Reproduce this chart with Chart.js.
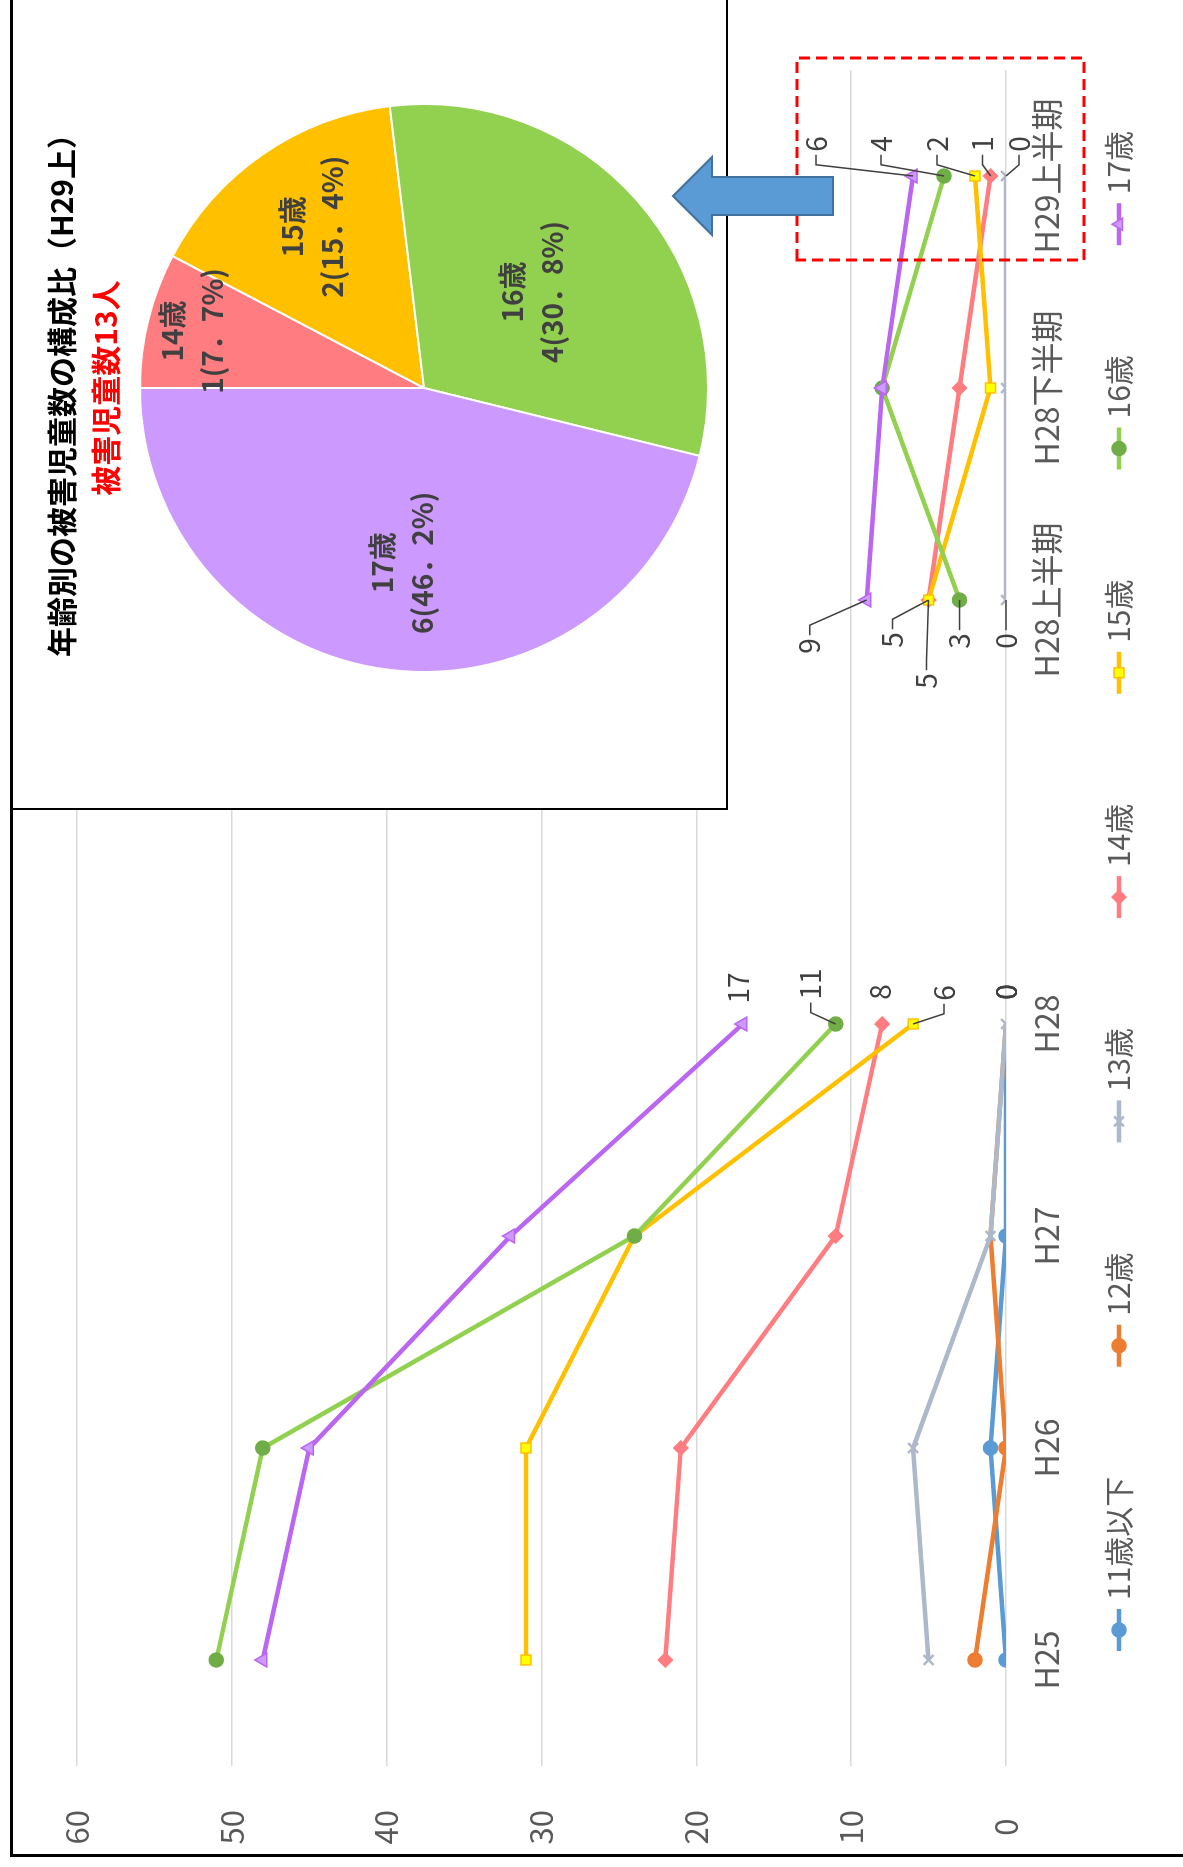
<!DOCTYPE html>
<html lang="ja">
<head>
<meta charset="utf-8">
<title>年齢別の被害児童数</title>
<script src="https://cdn.jsdelivr.net/npm/chart.js@4.4.1/dist/chart.umd.min.js"></script>
<style>
  html, body { margin: 0; padding: 0; background: #fff; overflow: hidden; }
  /* la hoja se dibuja apaisada y se gira 90 grados */
  #page {
    position: absolute; left: 0; top: 0;
    width: 1867px; height: 1183px;
    transform-origin: 0 0;
    transform: translateY(1867px) rotate(-90deg);
    background: #fff; overflow: hidden;
  }
  #frame {
    position: absolute; left: 10px; top: 10px; width: 1900px; height: 1300px;
    border-left: 3px solid #000; border-top: 3px solid #000;
  }
  #mainChart { position: absolute; left: 0; top: 0; }
  #pieBox {
    position: absolute; left: 1057px; top: 12px; width: 820px; height: 716px;
    box-sizing: border-box; background: #fff;
    border-left: 2px solid #000; border-bottom: 2px solid #000;
  }
  #pieChart { position: absolute; left: 1059px; top: 12px; }
  #marks { position: absolute; left: 0; top: 0; }
</style>
</head>
<body>
<div id="page">
  <canvas id="mainChart" width="1867" height="1183"></canvas>
  <div id="pieBox"></div>
  <canvas id="pieChart" width="808" height="712"></canvas>
  <svg id="marks" width="1867" height="1183">
    <rect x="1607" y="797" width="202" height="287" fill="none" stroke="#ff0000" stroke-width="3" stroke-dasharray="11 6"/>
    <polygon points="1671,673 1710,712 1690,712 1690,833 1652,833 1652,712 1632,712"
             fill="#5b9bd5" stroke="#41719c" stroke-width="2"/>
  </svg>
  <div id="frame"></div>
</div>

<script>
// Datos: número de niños víctimas por edad
const periodos = ['H25', 'H26', 'H27', 'H28', '', 'H28上半期', 'H28下半期', 'H29上半期'];
const edades = ['11歳以下', '12歳', '13歳', '14歳', '15歳', '16歳', '17歳'];

const edad11 = [0, 1, 0, 0, null, null, null, null];
const edad12 = [2, 0, 1, 0, null, null, null, null];
const edad13 = [5, 6, 1, 0, null, 0, 0, 0];
const edad14 = [22, 21, 11, 8, null, 5, 3, 1];
const edad15 = [31, 31, 24, 6, null, 5, 1, 2];
const edad16 = [51, 48, 24, 11, null, 3, 8, 4];
const edad17 = [48, 45, 32, 17, null, 9, 8, 6];

// Composición H29 primer semestre (gráfico circular)
const pieLabels = ['14歳', '15歳', '16歳', '17歳'];
const pieValues = [1, 2, 4, 6];

const FONT = "'Noto Sans CJK JP', 'Noto Sans', sans-serif";
Chart.defaults.font.family = FONT;

// Estilo de cada serie
const estilos = [
  { color: '#5b9bd5', fill: '#5b9bd5', punto: 'circle', radios: [7, 7, 7, 0, 0, 0, 0, 0] },
  { color: '#ed7d31', fill: '#ed7d31', punto: 'circle', radios: [7, 7, 0, 0, 0, 0, 0, 0] },
  { color: '#adb9ca', fill: '#adb9ca', punto: 'crossRot', radios: 7 },
  { color: '#ff7c80', fill: '#ff7c80', punto: 'rectRot', radios: 7 },
  { color: '#ffc000', fill: '#ffff00', punto: 'rect', radios: 7 },
  { color: '#92d050', fill: '#70ad47', punto: 'circle', radios: 7 },
  { color: '#bb66f0', fill: '#cc99ff', punto: 'triangle', radios: 8 }
];
const series = [edad11, edad12, edad13, edad14, edad15, edad16, edad17];

const datasets = series.map((valores, i) => ({
  label: edades[i],
  data: valores,
  borderColor: estilos[i].color,
  backgroundColor: estilos[i].fill,
  pointBackgroundColor: estilos[i].fill,
  pointBorderColor: i === 4 ? '#ffc000' : (i === 6 ? '#bb66f0' : estilos[i].fill),
  pointBorderWidth: i === 2 ? 2.5 : 1.5,
  pointStyle: estilos[i].punto,
  pointRadius: estilos[i].radios,
  borderWidth: 4.5,
  tension: 0,
  spanGaps: false,
  order: -i // las series posteriores quedan encima
}));

// Posición de las etiquetas de valor: [du, dv, línea guía]
const etiquetas = {
  '6-3': [36, -4], '5-3': [40, -25, true], '3-3': [32, -2], '4-3': [31, 31, true],
  '2-3': [32, 0], '1-3': [32, 0], '0-3': [32, 0],
  '6-5': [-46, -57, true], '4-5': [-40, -36, true], '3-5': [-81, -2, true],
  '5-5': [-41, 0, true], '2-5': [-41, 0, true],
  '6-7': [32, -97, true], '5-7': [32, -63, true], '4-7': [32, -38, true],
  '3-7': [32, -8, true], '2-7': [32, 13, true]
};

const etiquetasPlugin = {
  id: 'etiquetasValor',
  afterDatasetsDraw(chart) {
    const ctx = chart.ctx;
    ctx.save();
    ctx.font = '28px ' + FONT;
    ctx.fillStyle = '#404040';
    ctx.strokeStyle = '#404040';
    ctx.lineWidth = 1.5;
    ctx.textAlign = 'center';
    ctx.textBaseline = 'middle';
    chart.data.datasets.forEach((ds, d) => {
      const meta = chart.getDatasetMeta(d);
      meta.data.forEach((pt, i) => {
        const spot = etiquetas[d + '-' + i];
        if (!spot || ds.data[i] == null) return;
        const texto = String(ds.data[i]);
        const lx = pt.x + spot[0];
        const ly = pt.y + spot[1];
        if (spot[2]) {
          const w = ctx.measureText(texto).width;
          const s = spot[0] > 0 ? -1 : 1;
          const borde = lx + s * (w / 2 + 3);
          ctx.beginPath();
          ctx.moveTo(pt.x, pt.y);
          ctx.lineTo(borde + s * 10, ly);
          ctx.lineTo(borde, ly);
          ctx.stroke();
        }
        ctx.fillText(texto, lx, ly);
      });
    });
    ctx.restore();
  }
};

// Leyenda con línea y marcador, como en la hoja de cálculo
const leyendaPlugin = {
  id: 'leyendaLinea',
  afterDraw(chart) {
    const ctx = chart.ctx;
    const v = 1119;
    let u = 237;
    ctx.save();
    ctx.font = '30px ' + FONT;
    ctx.textBaseline = 'middle';
    ctx.textAlign = 'left';
    chart.data.datasets.forEach((ds) => {
      ctx.strokeStyle = ds.borderColor;
      ctx.lineWidth = 4.5;
      ctx.beginPath();
      ctx.moveTo(u - 21, v);
      ctx.lineTo(u + 21, v);
      ctx.stroke();
      ctx.fillStyle = ds.pointBackgroundColor;
      ctx.strokeStyle = ds.pointBorderColor;
      ctx.lineWidth = ds.pointBorderWidth;
      Chart.helpers.drawPoint(ctx, { pointStyle: ds.pointStyle, radius: 7, borderWidth: ds.pointBorderWidth, rotation: 0 }, u, v);
      ctx.fillStyle = '#595959';
      ctx.fillText(ds.label, u + 30, v);
      u += 30 + ctx.measureText(ds.label).width + 110 + 21;
    });
    ctx.restore();
  }
};

new Chart(document.getElementById('mainChart'), {
  type: 'line',
  data: { labels: periodos, datasets: datasets },
  options: {
    responsive: false,
    animation: false,
    layout: { padding: { left: 0, right: 70, top: 77, bottom: 0 } },
    plugins: { legend: { display: false }, tooltip: { enabled: false } },
    scales: {
      x: {
        offset: true,
        grid: { display: false, drawTicks: false },
        border: { display: false },
        ticks: { color: '#595959', font: { size: 32 }, padding: 22, autoSkip: false, maxRotation: 0 },
        afterFit(s) { s.height = 177; }
      },
      y: {
        min: 0, max: 60,
        grid: { color: '#d9d9d9', lineWidth: 1.5, drawTicks: false },
        border: { display: false },
        ticks: { stepSize: 10, color: '#595959', font: { size: 31 }, padding: 44, crossAlign: 'center' },
        afterFit(s) { s.width = 101; }
      }
    }
  },
  plugins: [etiquetasPlugin, leyendaPlugin]
});

// Gráfico circular
const total = pieValues.reduce((a, b) => a + b, 0);
const radioEtiqueta = [0.84, 0.69, 0.51, 0.62];

const pieEtiquetasPlugin = {
  id: 'pieEtiquetas',
  afterDatasetsDraw(chart) {
    const ctx = chart.ctx;
    const meta = chart.getDatasetMeta(0);
    ctx.save();
    ctx.font = 'bold 28px ' + FONT;
    ctx.fillStyle = '#404040';
    ctx.textAlign = 'center';
    ctx.textBaseline = 'middle';
    meta.data.forEach((arc, i) => {
      const ang = (arc.startAngle + arc.endAngle) / 2;
      const r = arc.outerRadius * radioEtiqueta[i];
      const x = arc.x + Math.cos(ang) * r;
      const y = arc.y + Math.sin(ang) * r;
      const pct = (pieValues[i] / total * 100).toFixed(1).replace('.', '．');
      ctx.fillText(pieLabels[i], x, y - 20);
      ctx.fillText(pieValues[i] + '(' + pct + '%)', x, y + 20);
    });
    ctx.restore();
  }
};

new Chart(document.getElementById('pieChart'), {
  type: 'pie',
  data: {
    labels: pieLabels,
    datasets: [{
      data: pieValues,
      backgroundColor: ['#ff7c80', '#ffc000', '#92d050', '#cc99ff'],
      borderColor: '#ffffff',
      borderWidth: 2
    }]
  },
  options: {
    responsive: false,
    animation: false,
    layout: { padding: { left: 135, right: 103, top: 0, bottom: 14 } },
    plugins: {
      legend: { display: false },
      tooltip: { enabled: false },
      title: {
        display: true,
        text: '年齢別の被害児童数の構成比（H29上）',
        color: '#000',
        font: { size: 30, weight: 'bold' },
        padding: { top: 32, bottom: 8 }
      },
      subtitle: {
        display: true,
        text: '被害児童数' + total + '人',
        color: '#ff0000',
        font: { size: 30, weight: 'bold' },
        padding: { top: 0, bottom: 14 }
      }
    }
  },
  plugins: [pieEtiquetasPlugin]
});
</script>
</body>
</html>
